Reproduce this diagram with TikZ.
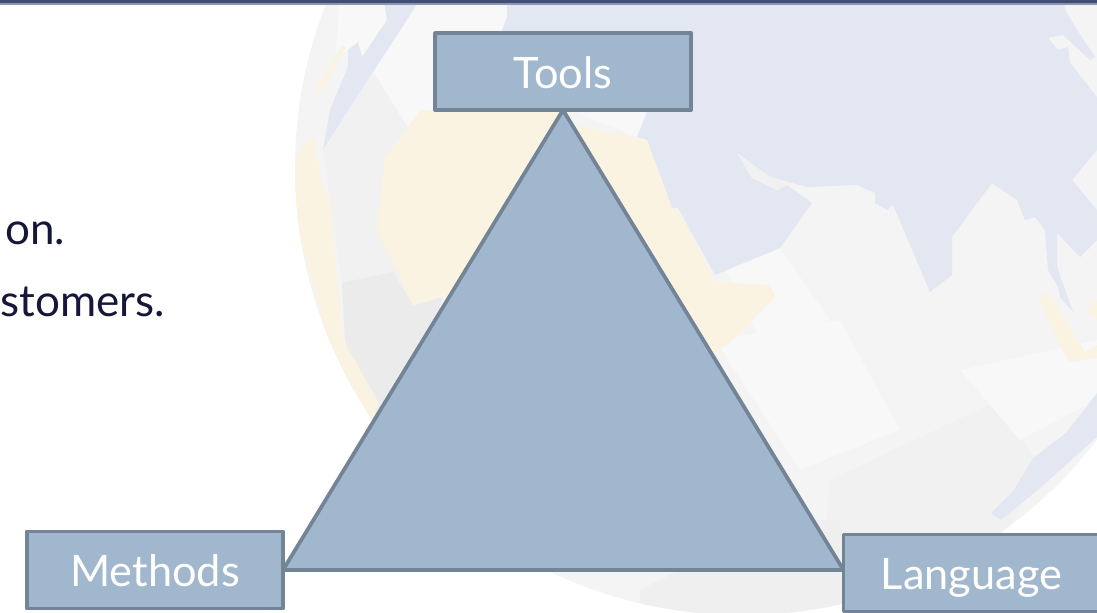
\documentclass[tikz,border=0pt]{standalone}
\usepackage{fontspec}
\setmainfont{Lato}
\pgfdeclarelayer{mid}
\pgfsetlayers{mid,main}
\definecolor{seacol}{HTML}{E3E7F1}
\definecolor{landcol}{HTML}{F4F4F4}
\definecolor{lightcol}{HTML}{F8F8F8}
\definecolor{creamcol}{HTML}{FBF3E2}
\definecolor{graycol}{HTML}{EBEBEB}
\definecolor{midgray}{HTML}{F1F1F1}
\definecolor{boxfill}{HTML}{A1B7CE}
\definecolor{boxline}{HTML}{738496}
\definecolor{barcol}{HTML}{414D75}
\definecolor{barline}{HTML}{8D96AE}
\definecolor{inkcol}{HTML}{15163A}
\tikzset{
  labelbox/.style={draw=boxline,fill=boxfill,line width=2.9pt,line join=round,
    minimum width=192pt,minimum height=57.75pt,inner sep=0pt,outer sep=0pt,
    text=white,text height=33pt,text depth=7.8pt,font=\fontsize{32.5}{36}\selectfont},
  bodytext/.style={anchor=base east,inner sep=0pt,outer sep=0pt,text=inkcol,
    font=\fontsize{33}{36}\selectfont},
  sea/.style={fill=seacol},
  land/.style={fill=lightcol},
  cream/.style={fill=creamcol},
  grayland/.style={fill=graycol},
  midland/.style={fill=midgray}
}
\begin{document}
\begin{tikzpicture}[x=0.75pt,y=-0.75pt]
\useasboundingbox (0,0) rectangle (1097,613);
\clip (0,0) rectangle (1097,613);
\begin{pgfonlayer}{mid}
\fill[white] (0,0) rectangle (1097,613);
\begin{scope}
  \clip (742,168) circle [radius=447];
  \fill[landcol] (250,-50) rectangle (1200,700);
  % lower shading
  \path[land] (715,340) -- (840,320) -- (900,430) -- (800,470) -- cycle;
  \path[midland] (830,480) -- (1000,400) -- (1040,470) -- (960,620) -- (820,620) -- cycle;
  \path[fill=graycol!60!landcol] (640,590) -- (780,520) -- (840,520) -- (850,620) -- (640,620) -- cycle;
  \path[land] (960,370) -- (1097,340) -- (1097,400) -- (1020,440) -- cycle;
  \path[land] (700,220) -- (780,248) -- (830,320) -- (760,340) -- cycle;
  % north land
  \path[land] (373,72) -- (423,-5) -- (507,-5) -- (507,17) -- (502,30) -- (500,110) -- (408,128) -- cycle;
  \path[land] (340,-5) -- (383,-5) -- (387,20) -- (362,57) -- (358,42) -- (348,50) -- (335,60) -- cycle;
  \path[land] (575,112) -- (647,112) -- (637,137) -- cycle;
  % main sea
  \path[sea] (507,-5) -- (507,17) -- (502,30) -- (500,60) -- (650,100) -- (647,112) -- (637,137) -- (647,140) -- (655,162)
    -- (672,208) -- (678,208) -- (715,275) -- (780,248) -- (812,203) -- (787,185) -- (777,190)
    -- (752,178) -- (737,153) -- (770,177) -- (807,187) -- (857,185) -- (875,193) -- (875,203)
    -- (887,210) -- (893,205) -- (930,292) -- (952,275) -- (952,237) -- (992,183) -- (1017,200)
    -- (1025,220) -- (1035,217) -- (1045,230) -- (1048,270) -- (1058,287) -- (1060,297) -- (1073,312)
    -- (1057,267) -- (1057,233) -- (1080,257) -- (1097,240) -- (1097,210) -- (1072,180) -- (1097,150)
    -- (1097,97) -- (1070,63) -- (1068,47) -- (1058,50) -- (1048,38) -- (1063,35) -- (1090,60)
    -- (1095,57) -- (1077,30) -- (1065,10) -- (1063,-5) -- cycle;
  % small land strip
  \path[midland] (737,153) -- (770,177) -- (787,185) -- (777,190) -- (752,178) -- cycle;
  % west sea
  \path[sea] (383,-5) -- (387,20) -- (362,57) -- (358,42) -- (348,50) -- (348,67) -- (330,110)
    -- (323,150) -- (373,72) -- (423,-5) -- cycle;
  % west land greys
  \path[midland] (323,150) -- (373,72) -- (408,128) -- (385,157) -- (377,230) -- (413,305)
    -- (342,283) -- (330,200) -- cycle;
  \path[grayland] (342,283) -- (393,272) -- (413,305) -- (443,297) -- (400,450) -- (372,430) -- (345,340) -- cycle;
  % creams
  \path[cream] (298,150) -- (313,135) -- (322,183) -- (330,200) -- (343,340) -- (379,403) -- (371,425)
    -- (363,423) -- (330,350) -- (290,200) -- cycle;
  \path[cream] (408,128) -- (420,110) -- (560,110) -- (560,300) -- (443,297) -- (413,305) -- (377,230) -- (385,157) -- cycle;
  \path[cream] (575,125) -- (647,140) -- (655,162) -- (672,208) -- (680,213) -- (715,282) -- (770,285)
    -- (775,297) -- (733,340) -- (715,353) -- (640,400) -- cycle;
  \path[cream] (342,45) -- (345,48) -- (322,90) -- (314,92) -- cycle;
  \path[cream] (1037,295) -- (1050,295) -- (1077,340) -- (1085,352) -- (1097,345) -- (1097,358) -- (1070,362) -- (1057,340) -- cycle;
  \path[cream] (1085,310) -- (1097,300) -- (1097,320) -- cycle;
  % lower right sea
  \path[sea] (1097,393) -- (1066,433) -- (1033,458) -- (1014,490) -- (991,513) -- (1001,520) -- (1040,488) -- (1097,437) -- cycle;
\end{scope}
\fill[barcol] (0,0) rectangle (1097,3.5);
\fill[barline] (0,3.5) rectangle (1097,4.6);
\end{pgfonlayer}
\node[labelbox] (tools) at (563,71.5) {Tools};
\node[labelbox] (methods) at (155,570) {Methods};
\node[labelbox] (language) at (971.5,573) {Language};
\begin{pgfonlayer}{mid}
\draw[fill=boxfill,draw=boxline,line width=2.8pt,line join=round]
  (tools.south) -- (methods.east) -- (language.west |- methods.east) -- cycle;
\end{pgfonlayer}
\node[bodytext] (line1) at (65,245) {on.};
\node[bodytext] (line2) at (165,316) {stomers.};
\end{tikzpicture}
\end{document}
